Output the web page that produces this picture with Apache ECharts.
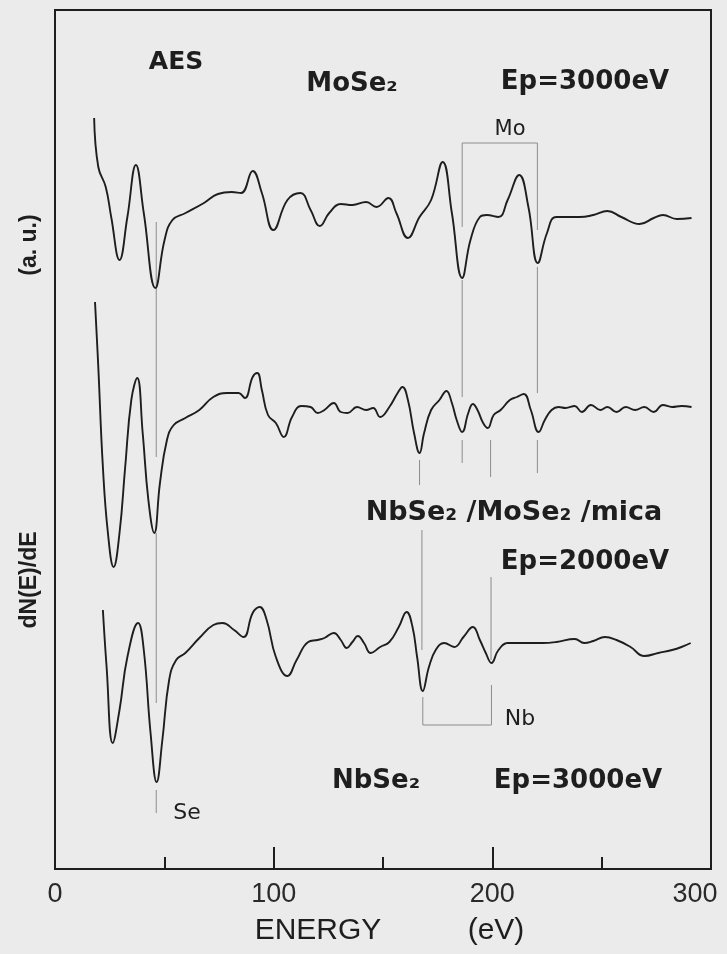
<!DOCTYPE html>
<html>
<head>
<meta charset="utf-8">
<script src="https://cdn.jsdelivr.net/npm/echarts@6/dist/echarts.min.js"></script>
<style>
html,body{margin:0;padding:0;background:#ebebeb;}
#chart{width:727px;height:954px;}
</style>
</head>
<body>
<div id="chart"></div>
<script>
// ---- data (energy in eV, signal in arbitrary units) ----
const energyTicks = [0, 100, 200, 300];

const moEnergy = [17.9,19.8,23.2,25.7,29.5,33.1,37.0,40.6,45.9,50.1,53.7,59.7,68.1,74.5,80.8,85.1,90.4,94.6,99.9,106.3,112.2,116.9,121.1,125.4,130.7,136,142.3,147,152.5,156.1,161.4,166.7,172,177.3,181.5,186.2,190,194.3,197.4,202.8,207,212.3,216.5,220.8,225,229.3,239.9,246.2,252.6,259,267.4,273.8,278,284.4,291.1];
const moSignal = [751,702,682,652,609,652,704,656,581,629,649,656,666,675,677,676,698,676,639,669,676,659,643,656,665,664,667,662,671,656,631,652,669,707,656,591,629,652,654,652,669,694,662,606,636,652,652,654,658,652,645,651,654,650,651];

const hetEnergy = [18.3,19.8,21.9,24.2,26.8,29.5,32.1,34.9,37.6,40.1,42.7,45.4,48,51.2,54.3,59.6,66,72.4,78.7,84,86.8,90.4,92.5,94.6,97.4,101,104.6,108.4,112.6,116.9,120.1,123.2,127.5,130.7,133.8,138.1,142.3,145.5,148.7,152.9,156.7,158.9,161.4,164.2,166.7,168.8,172,175.8,179,181.5,183.7,186.2,189,191.1,193.2,195.8,197.9,200.6,203.8,208,211.2,214.4,217.6,221.2,224,227.1,230.3,233.5,237.7,240.9,245.1,249.4,252.6,256.8,261,265.3,269.5,273.8,278,282.2,286.5,291.1];
const hetSignal = [567,502,402,336,302,336,402,469,491,436,369,336,386,429,444,451,459,472,476,476,471,492,496,479,454,446,432,452,463,462,456,459,466,457,456,462,459,461,452,462,476,482,469,436,416,436,459,469,478,466,449,437,456,465,459,446,441,454,459,469,472,475,459,437,449,459,462,461,463,457,464,459,462,457,462,459,462,457,464,462,463,462];

const nbEnergy = [21.9,23.6,26.4,29.5,33.1,38,40.6,43.7,46.5,49.1,52.2,55.4,59.6,66,72.4,76.6,81.9,86.2,90.4,93.6,96.8,101,106.3,110.5,115.8,120.1,123.2,127.5,130.7,133.4,136,138.5,141.3,144.4,148.7,152.9,157.2,160.8,163.5,165.6,168.2,171,174.1,178,182.6,186.8,191.1,194.3,197,199.6,202.8,207,214.4,222.9,229.3,237.7,242,246.2,251.5,256.8,263.2,269.5,275.9,282.2,286.5,290.7];
const nbSignal = [259,202,126,159,212,246,219,136,87,129,189,209,216,231,244,246,239,232,256,262,249,212,193,209,227,229,231,236,229,221,227,233,226,216,222,227,242,257,242,212,178,202,219,226,222,232,242,229,216,206,219,226,226,226,227,230,226,228,232,229,222,213,216,219,222,226];

// peak-marker guide segments: [energy1, level1, energy2, level2]
const guideSegments = [
  [46.3,647,46.3,412],[46.3,336,46.3,166],[46.3,79,46.3,56],
  [186.2,726,186.2,642],[186.2,589,186.2,472],[186.2,429,186.2,406],
  [220.6,726,220.6,639],[220.6,602,220.6,476],[220.6,429,220.6,396],
  [186.2,726,220.6,726],
  [166.7,409,166.7,384],[199.2,429,199.2,392],
  [167.8,339,167.8,219],[199.4,292,199.4,209],
  [168.2,172,168.2,144],[199.6,184,199.6,144],[168.2,144,199.6,144]
];

// ---- chart ----
const chart = echarts.init(document.getElementById('chart'), null, {renderer:'canvas'});
const pair = (xs, ys) => xs.map((x,i)=>[x, ys[i]]);
const curveStyle = {color:'#1e1e1e', width:1.9};

const series = [
  {type:'line', data:pair(moEnergy, moSignal), showSymbol:false, smooth:0.45, lineStyle:curveStyle, silent:true, z:3},
  {type:'line', data:pair(hetEnergy, hetSignal), showSymbol:false, smooth:0.45, lineStyle:curveStyle, silent:true, z:3},
  {type:'line', data:pair(nbEnergy, nbSignal), showSymbol:false, smooth:0.45, lineStyle:curveStyle, silent:true, z:3}
];
guideSegments.forEach(s => {
  series.push({type:'line', data:[[s[0],s[1]],[s[2],s[3]]], showSymbol:false, silent:true,
    lineStyle:{color:'#8c8c8c', width:1}, z:2});
});

const boldFont = 'DejaVu Sans';
const txt = (text, x, y, size, weight, family, extra) => Object.assign({
  type:'text', x:x, y:y,
  style:{text:text, fontSize:size, fontWeight:weight, fontFamily:family, fill:'#1e1e1e', align:'center', verticalAlign:'middle'}
}, extra || {});

chart.setOption({
  backgroundColor:'#ebebeb',
  animation:false,
  grid:{left:55, right:16, top:10, bottom:85, show:true, borderColor:'#1e1e1e', borderWidth:2, backgroundColor:'transparent'},
  xAxis:{
    type:'value', min:energyTicks[0], max:energyTicks[energyTicks.length-1], interval:100,
    axisLine:{show:true, lineStyle:{color:'#1e1e1e', width:2}},
    axisTick:{show:true, inside:true, length:22, lineStyle:{color:'#1e1e1e', width:2}},
    minorTick:{show:true, splitNumber:2, length:12, lineStyle:{color:'#1e1e1e', width:2}},
    splitLine:{show:false},
    axisLabel:{
      margin:12, fontSize:27, fontFamily:'Liberation Sans', color:'#2a2a2a',
      formatter: v => v === 300 ? '{r|300}' : String(v),
      rich:{r:{fontSize:27, fontFamily:'Liberation Sans', color:'#2a2a2a', padding:[0,32,0,0]}}
    }
  },
  yAxis:{
    type:'value', min:0, max:859,
    axisLine:{show:true, lineStyle:{color:'#1e1e1e', width:2}},
    axisTick:{show:false}, axisLabel:{show:false}, splitLine:{show:false}
  },
  series:series,
  graphic:[
    txt('AES', 176, 62, 25, 'bold', boldFont),
    txt('MoSe₂', 352, 84, 26, 'bold', boldFont),
    txt('Ep=3000eV', 585, 82, 26, 'bold', boldFont),
    txt('Mo', 510, 130, 21, 'normal', 'DejaVu Sans'),
    txt('NbSe₂ /MoSe₂ /mica', 514, 513, 27, 'bold', boldFont),
    txt('Ep=2000eV', 585, 562, 26, 'bold', boldFont),
    txt('Nb', 520, 719, 22, 'normal', 'DejaVu Sans'),
    txt('NbSe₂', 376, 781, 26, 'bold', boldFont),
    txt('Ep=3000eV', 578, 781, 26, 'bold', boldFont),
    txt('Se', 187, 813, 22, 'normal', 'DejaVu Sans'),
    txt('(a. u.)', 30, 245, 23, 'bold', 'Liberation Sans', {rotation:Math.PI/2}),
    txt('dN(E)/dE', 30, 580, 23, 'bold', 'Liberation Sans', {rotation:Math.PI/2}),
    txt('ENERGY', 318, 931, 30, 'normal', 'Liberation Sans'),
    txt('(eV)', 496, 931, 30, 'normal', 'Liberation Sans')
  ]
});
</script>
</body>
</html>
